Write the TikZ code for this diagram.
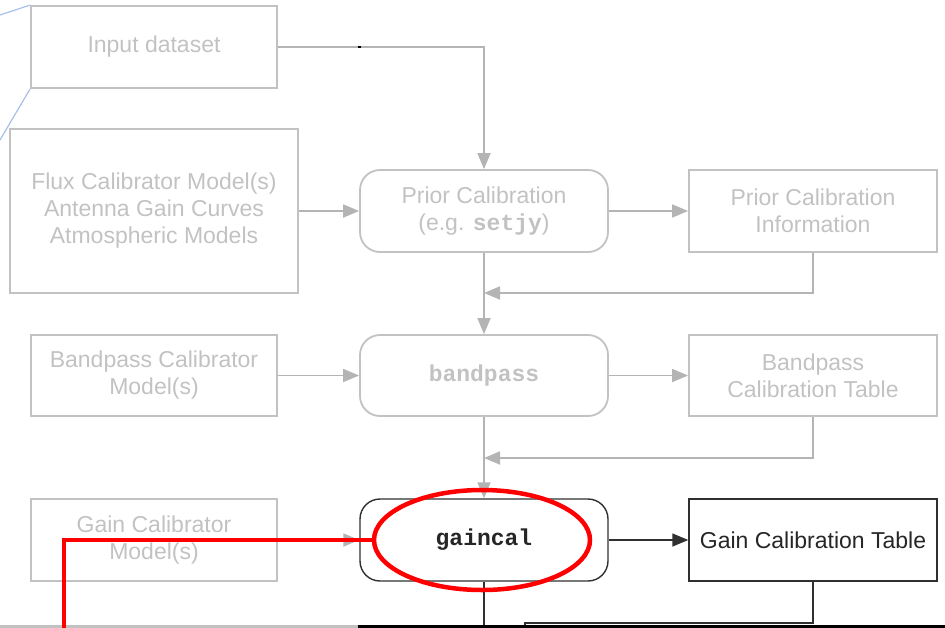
\documentclass[tikz,border=0pt]{standalone}
\usepackage{fontspec}
\setmainfont{Liberation Sans}
\setmonofont{Liberation Mono}
\usetikzlibrary{arrows.meta,shapes.geometric}
\definecolor{lg}{HTML}{C2C2C2}
\definecolor{lt}{HTML}{C2C2C2}
\definecolor{la}{HTML}{B4B4B4}
\definecolor{dk}{HTML}{303030}
\definecolor{bl}{HTML}{A8BFE8}
\begin{document}
\begin{tikzpicture}[x=1pt,y=-1pt,
  box/.style={draw=lg,line width=1.8pt,text=lt,minimum width=246pt,minimum height=82pt,
    align=center,inner sep=0pt,font=\fontsize{23}{27}\selectfont},
  rbox/.style={box,rounded corners=20pt,minimum width=248pt},
  tbox/.style={box,minimum width=248pt},
  dark/.style={draw=dk,line width=1.4pt,text=black!85},
  garr/.style={draw=la,line width=1.8pt,-{Triangle[length=16pt,width=13pt]}},
  karr/.style={draw=dk,line width=1.4pt,-{Triangle[length=16pt,width=13pt]}},
  kline/.style={draw=dk,line width=1.4pt},
  code/.style={font=\fontsize{23}{27}\selectfont\ttfamily\bfseries},
  redline/.style={draw=red,line width=4.5pt}
]
\useasboundingbox (0,0) rectangle (945,627);

% nodes
\node[box] (input) at (154,47) {Input dataset};
\node[box,minimum width=288pt,minimum height=164pt] (flux) at (154,211)
  {Flux Calibrator Model(s)\\Antenna Gain Curves\\Atmospheric Models};
\node[rbox] (prior) at (484,211) {Prior Calibration\\(e.g. {\ttfamily\bfseries setjy})};
\node[tbox] (priorinfo) at (813,211) {Prior Calibration\\Information};

\node[box,minimum height=81pt] (bpmodel) at (154,375.5) {Bandpass Calibrator\\Model(s)};
\node[rbox,minimum height=81pt,code] (bandpass) at (484,375.5) {bandpass};
\node[tbox,minimum height=81pt] (bptable) at (813,375.5) {Bandpass\\Calibration Table};

\node[box] (gainmodel) at (154,540) {Gain Calibrator\\Model(s)};
\node[rbox,dark,code] (gaincal) at (484,540) {gaincal};
\node[tbox,dark] (gaintable) at (813,540) {Gain Calibration Table};

% joint coordinates
\coordinate (j1) at (484,47);
\coordinate (j2) at (813,293);
\coordinate (m1) at (484,293);
\coordinate (j3) at (813,458);
\coordinate (m2) at (484,458);
\coordinate (j4) at (813,623);
\coordinate (j5) at (525,623);
\coordinate (e5) at (525,628);
\coordinate (e6) at (484,628);
\coordinate (bl1) at (0,15);
\coordinate (bl2) at (0,140);
\coordinate (b0) at (0,626);
\coordinate (b1) at (358,626);
\coordinate (b2) at (945,626);
\coordinate (tick) at (359,47);

% blue lines
\draw[bl,line width=1.2pt] (bl1) -- (input.north west);
\draw[bl,line width=1.2pt] (input.south west) -- (bl2);

% gray connectors
\draw[garr] (input.east) -- (j1) -- (prior.north);
\draw[black,line width=1.6pt] ([xshift=-1.5pt]tick) -- ([xshift=1.5pt]tick);
\draw[garr] (flux.east) -- (prior.west);
\draw[garr] (prior.east) -- (priorinfo.west);
\draw[garr] (priorinfo.south) -- (j2) -- (m1);
\draw[garr] (prior.south) -- (bandpass.north);
\draw[garr] (bpmodel.east) -- (bandpass.west);
\draw[garr] (bandpass.east) -- (bptable.west);
\draw[garr] (bptable.south) -- (j3) -- (m2);
\draw[garr] (bandpass.south) -- (gaincal.north);
\draw[garr] (gainmodel.east) -- (gaincal.west);

% dark connectors
\draw[karr] (gaincal.east) -- (gaintable.west);
\draw[kline] (gaintable.south) -- (j4) -- (j5) -- (e5);
\draw[kline] (gaincal.south) -- (e6);

% bottom edge
\draw[lg,line width=3pt] (b0) -- (b1);
\draw[black,line width=3pt] (b1) -- (b2);

% red highlight
\node[draw=red,line width=4.5pt,ellipse,minimum width=216pt,minimum height=100pt,inner sep=0pt] (hl) at (482,540) {};
\coordinate (r1) at (64,540);
\coordinate (r2) at (64,630);
\draw[redline] (hl.west) -- (r1) -- (r2);
\end{tikzpicture}
\end{document}
